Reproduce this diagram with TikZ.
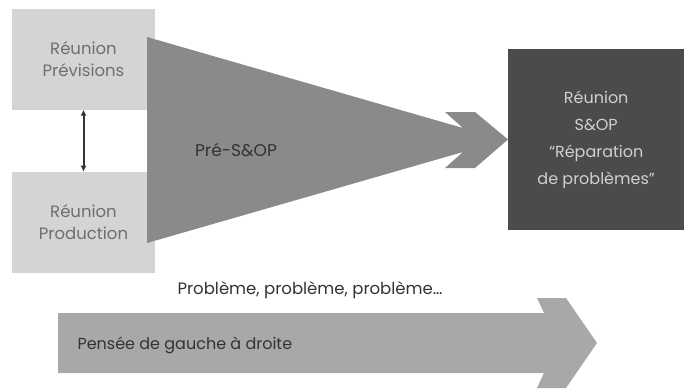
\documentclass[tikz,border=0pt]{standalone}
\usepackage{fontspec}
\setmainfont{Poppins}
\usetikzlibrary{positioning,arrows.meta}
\definecolor{meetfill}{HTML}{D4D4D4}
\definecolor{meettext}{HTML}{6E6E6E}
\definecolor{funnelgray}{HTML}{8A8A8A}
\definecolor{sopgray}{HTML}{4B4B4B}
\definecolor{soptext}{HTML}{D0D0D0}
\definecolor{flowgray}{HTML}{A8A8A8}
\definecolor{inkgray}{HTML}{333333}

\begin{document}
\begin{tikzpicture}[x=1pt, y=-1pt,
    meeting/.style={fill=meetfill, text=meettext, align=center, minimum width=143pt, minimum height=101pt, font=\fontsize{16.5}{22}\selectfont},
    sopbox/.style={fill=sopgray, text=soptext, align=center, minimum width=176pt, minimum height=181pt, font=\fontsize{16}{27}\selectfont},
    label/.style={text=inkgray, font=\fontsize{16.5}{18}\selectfont}]
    \useasboundingbox (0,0) rectangle (684,388);
    \node [meeting] (prev) at (83.5,59) {Réunion\\Prévisions};
    \node [meeting, below=62pt of prev] (prod) {Réunion\\Production};
    \draw [{Latex[length=6pt,width=6pt]}-{Latex[length=6pt,width=6pt]}, line width=2pt, inkgray] (prev) -- (prod);
    \node [sopbox, anchor=west] (sop) at (508,139.5) {Réunion\\S\&OP\\“Réparation\\de problèmes”};
    \fill [funnelgray] (147,37) -- (463,128) -- (445,112) -- (475,112) -- (sop.west) -- (475,168) -- (445,168) -- (463,152) -- (147,243) -- cycle;
    \node [label, font=\fontsize{17}{18}\selectfont] (pre) at (236,150) {Pré-S\&OP};
    \fill [flowgray] (58,313) -- (544,313) -- (537,298) -- (566,298) -- (597,343) -- (566,388) -- (537,388) -- (544,373) -- (58,373) -- cycle;
    \node [label] (problems) at (310,290) {Problème, problème, problème\dots};
    \node [label, font=\fontsize{16}{18}\selectfont, anchor=west] (think) at (74,345) {Pensée de gauche à droite};
\end{tikzpicture}
\end{document}
